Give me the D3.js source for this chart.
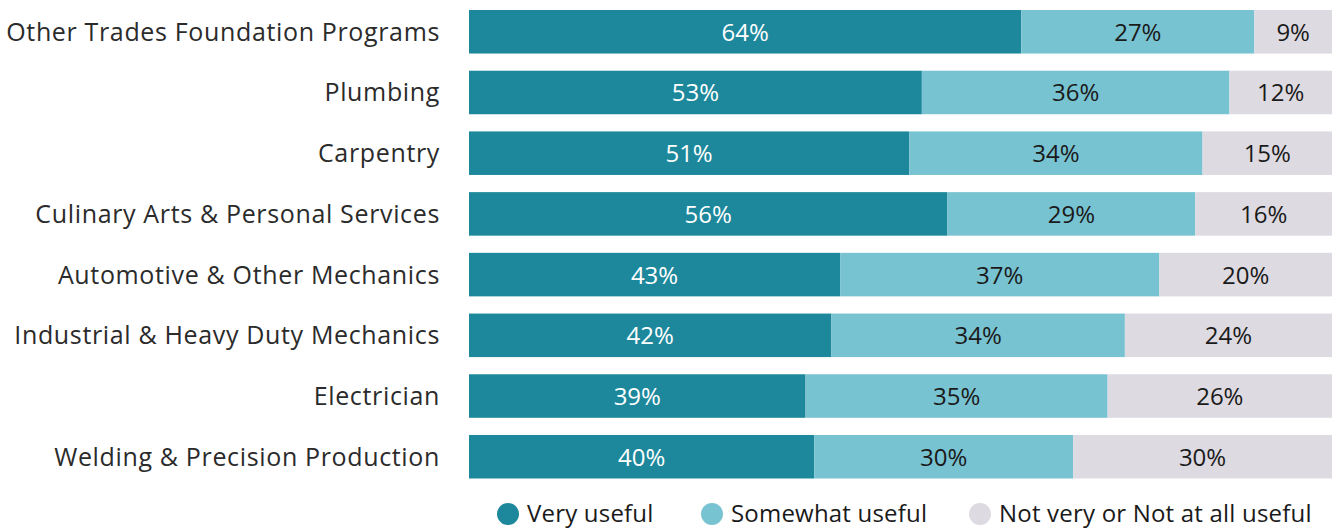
<!DOCTYPE html>
<html><head><meta charset="utf-8">
<script src="https://cdn.jsdelivr.net/npm/d3@7"></script>
<style>body{margin:0;background:#fff}svg{display:block}</style>
</head><body>
<svg id="c" width="1332" height="529"></svg>
<script>
const categories = ["Other Trades Foundation Programs","Plumbing","Carpentry","Culinary Arts & Personal Services","Automotive & Other Mechanics","Industrial & Heavy Duty Mechanics","Electrician","Welding & Precision Production"];
const veryUseful = [64,53,51,56,43,42,39,40];
const somewhatUseful = [27,36,34,29,37,34,35,30];
const notUseful = [9,12,15,16,20,24,26,30];
const seriesNames = ["Very useful","Somewhat useful","Not very or Not at all useful"];
const colors = ["#1d889c","#78c3d1","#dedae1"];
const textColors = ["#ffffff","#1a1a1a","#1a1a1a"];

const svg = d3.select("#c");
const font = "'Open Sans', sans-serif";
const x = d3.scaleLinear().domain([0,1]).range([469,1332]);
const y = d3.scaleBand().domain(categories).range([10,478.5]).paddingInner(0.283).paddingOuter(0);

const rows = categories.map((c,i)=>{
  const vals=[veryUseful[i],somewhatUseful[i],notUseful[i]];
  const tot=d3.sum(vals); let acc=0;
  return vals.map((v,k)=>{const s={cat:c,k,v,x0:acc/tot,x1:(acc+v)/tot};acc+=v;return s;});
});

const g = svg.append("g");
rows.forEach(r=>{
  const rg=g.append("g");
  rg.selectAll("rect").data(r).join("rect")
    .attr("x",d=>x(d.x0)).attr("width",d=>x(d.x1)-x(d.x0))
    .attr("y",d=>y(d.cat)).attr("height",y.bandwidth())
    .attr("fill",d=>colors[d.k]);
  rg.selectAll("text").data(r).join("text")
    .attr("x",d=>(x(d.x0)+x(d.x1))/2).attr("y",d=>y(d.cat)+y.bandwidth()/2+9)
    .attr("text-anchor","middle").attr("fill",d=>textColors[d.k])
    .style("font-family",font).style("font-size","24px")
    .text(d=>d.v+"%");
});

svg.append("g").selectAll("text").data(categories).join("text")
  .attr("x",440).attr("y",d=>y(d)+y.bandwidth()/2+9)
  .attr("text-anchor","end").attr("fill","#2b2b2b")
  .style("font-family",font).style("font-size","25px").style("letter-spacing","0.65px")
  .text(d=>d);

const legX=[508,712,980];
const lg=svg.append("g").selectAll("g").data(seriesNames).join("g")
  .attr("transform",(d,i)=>`translate(${legX[i]},514)`);
lg.append("circle").attr("r",11).attr("fill",(d,i)=>colors[i]);
lg.append("text").attr("x",19).attr("y",8).attr("fill","#1a1a1a")
  .style("font-family",font).style("font-size","24px").style("letter-spacing","0.2px").text(d=>d);
</script>
</body></html>
